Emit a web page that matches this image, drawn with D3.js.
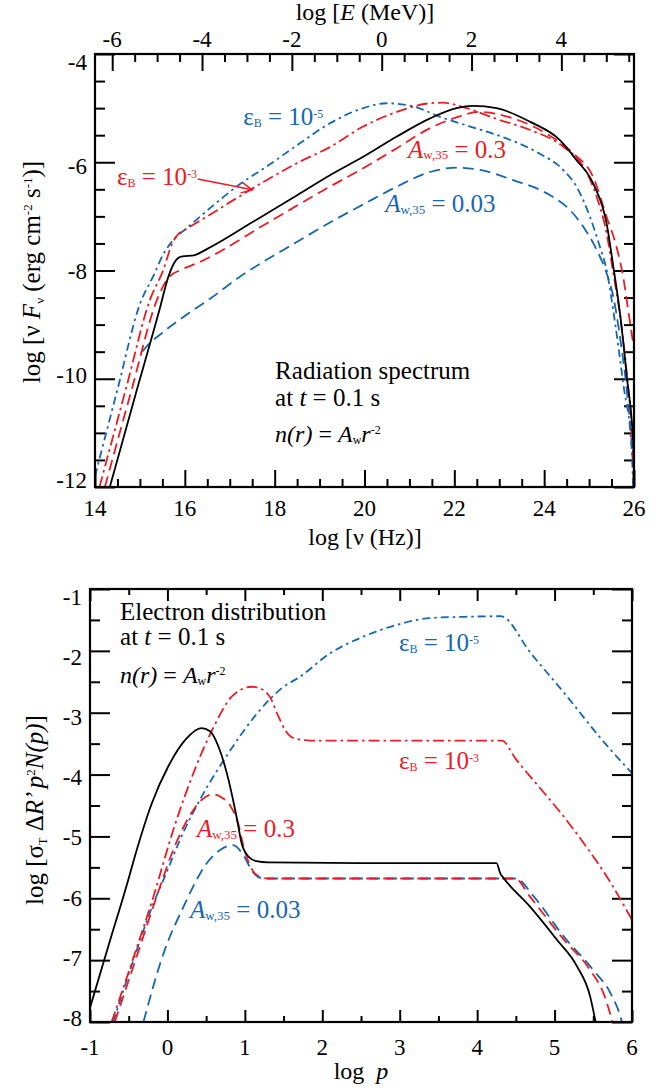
<!DOCTYPE html>
<html><head><meta charset="utf-8">
<script src="https://cdn.jsdelivr.net/npm/d3@7"></script>
<style>
body{margin:0;background:#fff}
svg text{white-space:pre}
</style>
</head><body>
<svg id="c" width="670" height="1091" xmlns="http://www.w3.org/2000/svg" font-family="Liberation Serif, 'Times New Roman', 'DejaVu Serif', serif"></svg>
<script>
// ---------------- DATA ----------------
// Top panel: log nu (Hz) vs log nuF_nu
const specRef      = [[14.33,-12],[14.9,-10.3],[15.45,-8.68],[15.62,-8.15],[15.75,-7.88],[15.85,-7.77],[15.95,-7.74],[16.2,-7.72],[16.5,-7.6],[17.5,-7.11],[18.5,-6.61],[19.23,-6.24],[19.97,-5.9],[20.71,-5.53],[21.46,-5.19],[22.05,-5.0],[22.42,-4.96],[22.94,-5.0],[23.68,-5.25],[24.35,-5.59],[24.72,-5.96],[25.09,-6.39],[25.39,-7.13],[25.54,-7.93],[25.69,-8.8],[25.84,-9.96],[25.99,-11.3],[26.0,-12]];
const specEpsB3    = [[14.1,-12],[14.7,-10.15],[15.22,-8.55],[15.52,-7.99],[15.72,-7.5],[15.85,-7.33],[15.98,-7.26],[16.5,-7.0],[17.08,-6.7],[18.56,-5.99],[19.23,-5.72],[19.97,-5.34],[20.72,-5.07],[21.46,-4.91],[21.75,-4.9],[22.2,-4.98],[22.94,-5.2],[23.68,-5.4],[24.42,-5.71],[24.87,-6.08],[25.17,-6.64],[25.39,-7.31],[25.54,-8.05],[25.7,-8.9],[25.85,-10.0],[25.97,-11.3],[26.0,-12]];
const specAw03     = [[14.22,-12],[14.8,-10.25],[15.4,-8.5],[15.58,-8.2],[15.72,-8.07],[15.88,-8.0],[16.34,-7.84],[17.82,-7.13],[19.23,-6.45],[19.97,-6.11],[20.72,-5.74],[21.46,-5.37],[21.98,-5.19],[22.57,-5.07],[23.31,-5.19],[24.05,-5.47],[24.65,-5.84],[25.09,-6.27],[25.39,-7.01],[25.61,-7.56],[25.76,-8.12],[25.87,-8.73],[26.0,-9.45]];
const specAw003    = [[15.05,-9.5],[15.2,-9.36],[15.5,-9.15],[16.1,-8.78],[16.6,-8.5],[17.08,-8.2],[18.56,-7.44],[19.3,-7.08],[19.97,-6.78],[20.72,-6.45],[21.46,-6.18],[22.05,-6.1],[22.57,-6.14],[23.31,-6.33],[24.05,-6.57],[24.57,-6.88],[24.87,-7.19],[25.17,-7.62],[25.39,-8.05],[25.54,-8.49],[25.7,-9.3],[25.85,-10.3],[25.97,-11.5],[26.0,-12]];
const specEpsB5    = [[14.0,-11.8],[14.5,-10.2],[15.0,-8.62],[15.3,-8.1],[15.52,-7.7],[15.74,-7.44],[16.04,-7.22],[16.6,-6.82],[17.2,-6.42],[17.82,-6.08],[18.56,-5.65],[19.23,-5.28],[19.97,-5.0],[20.49,-4.91],[21.09,-4.97],[21.68,-5.16],[22.35,-5.34],[23.16,-5.56],[23.83,-5.81],[24.42,-6.14],[24.72,-6.45],[25.02,-7.01],[25.24,-7.56],[25.39,-7.99],[25.54,-8.75],[25.76,-10.09],[25.95,-11.32],[25.98,-12]];

// Bottom panel: log p vs log[sigma_T dR' p^2 N(p)]
const elecRef      = [[-1,-7.77],[-0.75,-6.72],[-0.51,-5.72],[-0.42,-5.32],[-0.2,-4.46],[0.01,-3.87],[0.23,-3.44],[0.44,-3.25],[0.55,-3.3],[0.66,-3.55],[0.79,-4.09],[0.9,-4.73],[0.96,-5.12],[1.05,-5.33],[1.15,-5.40],[1.3,-5.42],[2.5,-5.43],[4.25,-5.43],[4.3,-5.6],[4.34,-5.67],[4.68,-6.13],[5.03,-6.67],[5.29,-7.1],[5.46,-7.59],[5.53,-8.0]];
const elecEpsB3    = [[-0.72,-8],[-0.45,-7.0],[-0.2,-6.05],[0.1,-4.8],[0.36,-3.9],[0.57,-3.3],[0.83,-2.74],[0.96,-2.62],[1.09,-2.58],[1.22,-2.62],[1.33,-2.76],[1.43,-3.05],[1.53,-3.3],[1.65,-3.42],[1.85,-3.45],[4.32,-3.45],[4.5,-3.75],[4.8,-4.2],[5.1,-4.65],[5.4,-5.15],[5.7,-5.7],[6.0,-6.35]];
const elecAw03     = [[-0.68,-8],[-0.4,-6.95],[-0.07,-5.72],[0.05,-5.3],[0.31,-4.62],[0.45,-4.4],[0.58,-4.32],[0.7,-4.37],[0.81,-4.5],[0.92,-4.82],[0.98,-5.15],[1.07,-5.48],[1.15,-5.62],[1.3,-5.68],[4.49,-5.68],[4.68,-5.97],[5.12,-6.67],[5.46,-7.16],[5.63,-7.53],[5.75,-8.0]];
const elecAw003    = [[-0.31,-8],[-0.05,-6.89],[0.21,-6.13],[0.51,-5.43],[0.68,-5.22],[0.85,-5.14],[0.98,-5.3],[1.1,-5.57],[1.24,-5.68],[4.5,-5.68],[4.73,-5.97],[5.12,-6.62],[5.5,-7.16],[5.72,-7.53],[5.85,-7.91],[5.87,-8]];
const elecEpsB5    = [[-0.7,-8],[-0.44,-7.0],[-0.18,-6.08],[-0.05,-5.7],[0.2,-4.95],[0.44,-4.36],[0.79,-3.65],[1.14,-3.04],[1.48,-2.6],[1.71,-2.42],[2.1,-2.04],[2.53,-1.77],[2.96,-1.58],[3.39,-1.47],[3.82,-1.45],[4.3,-1.44],[4.7,-2.05],[5.15,-2.72],[5.6,-3.42],[6.0,-3.98]];

// Tick labels
const topXTicks  = [14,16,18,20,22,24,26];
const topETicks  = [-6,-4,-2,0,2,4];
const topYTicks  = [-4,-6,-8,-10,-12];
const botXTicks  = [-1,0,1,2,3,4,5,6];
const botYTicks  = [-1,-2,-3,-4,-5,-6,-7,-8];
const LOG_H_MEV  = -20.383;   // log10(h in MeV s)

// ---------------- STYLE ----------------
const FONT = "Liberation Serif, 'Times New Roman', 'DejaVu Serif', serif";
const RED = "#ea1c24", BLUE = "#1766b2", BLACK = "#000";
const DASH = "11,6", DASHDOT = "11,4,2.5,4", DASHDOT2 = "8,4,2.5,4";
const svg = d3.select("#c");

function rich(g, x, y, parts, size, color, anchor) {
  const t = g.append("text").attr("x", x).attr("y", y)
    .attr("font-family", FONT)
    .attr("font-size", size).attr("fill", color || BLACK)
    .attr("text-anchor", anchor || "start");
  let cur = 0;
  parts.forEach(p => {
    const s = typeof p === "string" ? {t: p} : p;
    const target = s.sub ? s.sub : (s.sup ? -s.sup : 0);
    const ts = t.append("tspan").text(s.t).attr("dy", target - cur);
    cur = target;
    if (s.i) ts.attr("font-style", "italic");
    if (s.fs) ts.attr("font-size", s.fs);
  });
  return t;
}

function panel(cfg) {
  const g = svg.append("g");
  const x = d3.scaleLinear().domain(cfg.xd).range([cfg.x0, cfg.x1]);
  const y = d3.scaleLinear().domain(cfg.yd).range([cfg.y1, cfg.y0]);
  const id = "clip" + cfg.name;
  svg.append("clipPath").attr("id", id).append("rect")
    .attr("x", cfg.x0).attr("y", cfg.y0).attr("width", cfg.x1 - cfg.x0).attr("height", cfg.y1 - cfg.y0);

  const tickStyle = sel => { sel.select(".domain").remove(); sel.selectAll("line").attr("stroke", BLACK).attr("stroke-width", 2); sel.selectAll("text").remove(); };
  const minors = (lo, hi, step, majors) => d3.range(lo, hi + 1e-9, step).filter(v => !majors.some(m => Math.abs(m - v) < 1e-6));

  const xMaj = cfg.xMajor, xMin = minors(cfg.xd[0], cfg.xd[1], 0.5, xMaj);
  const yMaj = cfg.yMajor, yMin = minors(cfg.yd[0], cfg.yd[1], 0.5, yMaj);

  g.append("g").attr("transform", `translate(0,${cfg.y1})`).call(d3.axisBottom(x).tickValues(xMaj).tickSize(-cfg.xtM)).call(tickStyle);
  g.append("g").attr("transform", `translate(0,${cfg.y1})`).call(d3.axisBottom(x).tickValues(xMin).tickSize(-cfg.xtm)).call(tickStyle);
  if (!cfg.topScale) {
    g.append("g").attr("transform", `translate(0,${cfg.y0})`).call(d3.axisTop(x).tickValues(xMaj).tickSize(-cfg.xtM)).call(tickStyle);
    g.append("g").attr("transform", `translate(0,${cfg.y0})`).call(d3.axisTop(x).tickValues(xMin).tickSize(-cfg.xtm)).call(tickStyle);
  }
  [[cfg.x0, d3.axisLeft], [cfg.x1, d3.axisRight]].forEach(([xx, ax]) => {
    g.append("g").attr("transform", `translate(${xx},0)`).call(ax(y).tickValues(yMaj).tickSize(-cfg.ytM)).call(tickStyle);
    g.append("g").attr("transform", `translate(${xx},0)`).call(ax(y).tickValues(yMin).tickSize(-cfg.ytm)).call(tickStyle);
  });

  // tick labels
  g.selectAll("text.xl").data(cfg.xLabels).join("text").attr("class", "xl")
    .attr("x", d => x(d)).attr("y", cfg.xLabY).attr("text-anchor", "middle")
    .attr("font-family", FONT).attr("font-size", cfg.tickFs).text(d => String(d));
  const yLab = d3.scaleLinear().domain([cfg.yLabels[0], cfg.yLabels[cfg.yLabels.length - 1]]).range(cfg.yLabRange);
  g.selectAll("text.yl").data(cfg.yLabels).join("text").attr("class", "yl")
    .attr("x", cfg.x0 - 8).attr("y", d => yLab(d)).attr("dy", "0.34em").attr("text-anchor", "end")
    .attr("font-family", FONT).attr("font-size", cfg.tickFs).text(d => String(d));

  const line = d3.line().x(d => x(d[0])).y(d => y(d[1])).curve(d3.curveMonotoneX);
  const lg = g.append("g").attr("clip-path", `url(#${id})`).attr("fill", "none");
  cfg.series.forEach(s => {
    lg.append("path").datum(s.data).attr("d", line).attr("stroke", s.color)
      .attr("stroke-width", s.w || 1.8).attr("stroke-dasharray", s.dash || null)
      .attr("stroke-linejoin", "round");
  });

  g.append("rect").attr("x", cfg.x0).attr("y", cfg.y0).attr("width", cfg.x1 - cfg.x0)
    .attr("height", cfg.y1 - cfg.y0).attr("fill", "none").attr("stroke", BLACK).attr("stroke-width", 2.2);
  return {g, x, y};
}

// ---------------- TOP PANEL ----------------
const T = panel({
  name: "top", xd: [14, 26], yd: [-12, -4], x0: 95, x1: 634, y0: 54, y1: 487,
  xMajor: [14,16,18,20,22,24,26], yMajor: [-4,-6,-8,-10,-12],
  xtM: 17, xtm: 8, ytM: 20, ytm: 10, topScale: true,
  xLabels: topXTicks, xLabY: 516, yLabels: topYTicks, yLabRange: [62, 480], tickFs: 23,
  series: [
    {data: specAw003, color: BLUE, dash: DASH},
    {data: specEpsB5, color: BLUE, dash: DASHDOT2},
    {data: specAw03, color: RED, dash: DASH},
    {data: specEpsB3, color: RED, dash: DASHDOT},
    {data: specRef, color: BLACK}
  ]
});
// top energy axis
{
  const xE = d3.scaleLinear().domain([14 + LOG_H_MEV, 26 + LOG_H_MEV]).range([95, 634]);
  const eMaj = topETicks;
  const eMin = d3.range(-6, 5.51, 0.5).filter(v => !eMaj.includes(v));
  const st = sel => { sel.select(".domain").remove(); sel.selectAll("line").attr("stroke", BLACK).attr("stroke-width", 2); sel.selectAll("text").remove(); };
  T.g.append("g").attr("transform", "translate(0,54)").call(d3.axisTop(xE).tickValues(eMaj).tickSize(-17)).call(st);
  T.g.append("g").attr("transform", "translate(0,54)").call(d3.axisTop(xE).tickValues(eMin).tickSize(-8)).call(st);
  T.g.selectAll("text.el").data(eMaj).join("text").attr("class", "el")
    .attr("x", d => xE(d)).attr("y", 47).attr("text-anchor", "middle")
    .attr("font-family", FONT).attr("font-size", 23).text(d => String(d));
  rich(T.g, 365, 20, ["log [", {t: "E", i: true}, " (MeV)]"], 24, BLACK, "middle");
}
rich(T.g, 365, 545, ["log [ν (Hz)]"], 24, BLACK, "middle");
{
  const t = rich(T.g, 0, 0, ["log [ν ", {t: "F", i: true}, {t: "ν", sub: 4, fs: 13}, " (erg cm", {t: "-2", sup: 8, fs: 13}, " s", {t: "-1", sup: 8, fs: 13}, ")]"], 25, BLACK, "middle");
  t.attr("transform", "translate(40,272) rotate(-90)");
}
// annotations (data coordinates)
rich(T.g, T.x(17.3), T.y(-5.31), ["ε", {t: "B", sub: 2, fs: 12}, " = 10", {t: "-5", sup: 7, fs: 12}], 25, BLUE);
rich(T.g, T.x(14.49), T.y(-6.42), ["ε", {t: "B", sub: 2, fs: 12}, " = 10", {t: "-3", sup: 7, fs: 12}], 25, RED);
rich(T.g, T.x(20.97), T.y(-5.92), [{t: "A", i: true}, {t: "w,35", sub: 1.5, fs: 13}, " = 0.3"], 25, RED);
rich(T.g, T.x(20.46), T.y(-6.92), [{t: "A", i: true}, {t: "w,35", sub: 1.5, fs: 13}, " = 0.03"], 25, BLUE);
rich(T.g, T.x(18.01), T.y(-10.01), ["Radiation spectrum"], 25, BLACK);
rich(T.g, T.x(18.01), T.y(-10.51), ["at ", {t: "t", i: true}, " = 0.1 s"], 25, BLACK);
rich(T.g, T.x(18.01), T.y(-11.17), [{t: "n(r)", i: true}, " = ", {t: "A", i: true}, {t: "w", sub: 1.5, fs: 12}, {t: "r", i: true}, {t: "-2", sup: 8, fs: 12}], 24, BLACK);
// arrow
{
  const p0 = [T.x(16.29), T.y(-6.31)], p1 = [T.x(17.5), T.y(-6.51)];
  const a = Math.atan2(p1[1] - p0[1], p1[0] - p0[0]), L = 12;
  T.g.append("line").attr("x1", p0[0]).attr("y1", p0[1]).attr("x2", p1[0]).attr("y2", p1[1]).attr("stroke", RED).attr("stroke-width", 1.5);
  T.g.append("path").attr("d", `M${p1[0] - L * Math.cos(a - 0.45)},${p1[1] - L * Math.sin(a - 0.45)}L${p1[0]},${p1[1]}L${p1[0] - L * Math.cos(a + 0.45)},${p1[1] - L * Math.sin(a + 0.45)}`)
    .attr("fill", "none").attr("stroke", RED).attr("stroke-width", 1.5);
}

// ---------------- BOTTOM PANEL ----------------
const B = panel({
  name: "bot", xd: [-1, 6], yd: [-8, -1], x0: 90, x1: 632, y0: 589, y1: 1022,
  xMajor: [-1,0,1,2,3,4,5,6], yMajor: [-1,-2,-3,-4,-5,-6,-7,-8],
  xtM: 12, xtm: 6, ytM: 20, ytm: 10, topScale: false,
  xLabels: botXTicks, xLabY: 1055, yLabels: botYTicks, yLabRange: [597, 1018], tickFs: 23,
  series: [
    {data: elecAw003, color: BLUE, dash: DASH},
    {data: elecEpsB5, color: BLUE, dash: DASHDOT2},
    {data: elecAw03, color: RED, dash: DASH},
    {data: elecEpsB3, color: RED, dash: DASHDOT},
    {data: elecRef, color: BLACK}
  ]
});
rich(B.g, 361, 1079, ["log  ", {t: "p", i: true}], 24, BLACK, "middle");
{
  const t = rich(B.g, 0, 0, ["log [σ", {t: "T", sub: 4, fs: 12}, " Δ", {t: "R’ p", i: true}, {t: "2", sup: 8, fs: 13}, {t: "N(p)", i: true}, "]"], 25, BLACK, "middle");
  t.attr("transform", "translate(43,810) rotate(-90)");
}
rich(B.g, B.x(-0.612), B.y(-1.50), ["Electron distribution"], 25, BLACK);
rich(B.g, B.x(-0.612), B.y(-1.905), ["at ", {t: "t", i: true}, " = 0.1 s"], 25, BLACK);
rich(B.g, B.x(-0.612), B.y(-2.52), [{t: "n(r)", i: true}, " = ", {t: "A", i: true}, {t: "w", sub: 1.5, fs: 12}, {t: "r", i: true}, {t: "-2", sup: 8, fs: 12}], 24, BLACK);
rich(B.g, B.x(2.99), B.y(-2.0), ["ε", {t: "B", sub: 2, fs: 12}, " = 10", {t: "-5", sup: 7, fs: 12}], 25, BLUE);
rich(B.g, B.x(2.99), B.y(-3.91), ["ε", {t: "B", sub: 2, fs: 12}, " = 10", {t: "-3", sup: 7, fs: 12}], 25, RED);
rich(B.g, B.x(0.382), B.y(-5.01), [{t: "A", i: true}, {t: "w,35", sub: 1.5, fs: 13}, " = 0.3"], 25, RED);
rich(B.g, B.x(0.292), B.y(-6.32), [{t: "A", i: true}, {t: "w,35", sub: 1.5, fs: 13}, " = 0.03"], 25, BLUE);
</script>
</body></html>
